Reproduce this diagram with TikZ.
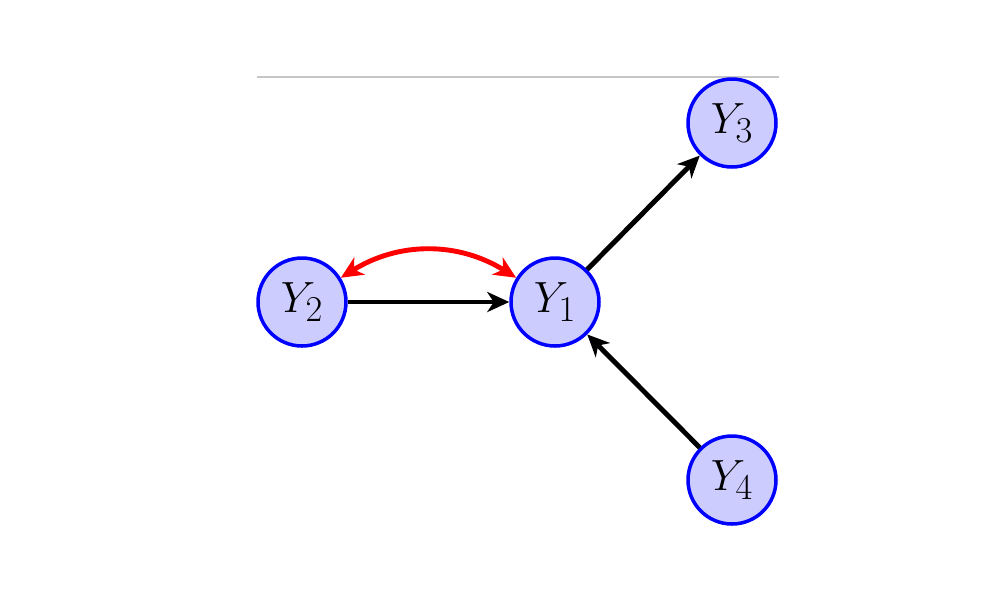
\documentclass[tikz,border=0pt]{standalone}
\usetikzlibrary{arrows.meta}
\definecolor{nodefill}{RGB}{204,204,255}
\begin{document}
\begin{tikzpicture}[x=0.02cm,y=-0.02cm,
  var/.style={circle,draw=blue,fill=nodefill,line width=2pt,minimum size=1.76cm,inner sep=0pt,font=\fontsize{31}{36}\selectfont},
  tip/.style={},
  edge/.style={line width=2.8pt,-{Stealth[length=4.4mm,width=4mm,inset=1.3mm]}},
  biedge/.style={line width=2.8pt,red,{Stealth[length=4.4mm,width=4mm,inset=1.3mm]}-{Stealth[length=4.4mm,width=4mm,inset=1.3mm]}}]
\useasboundingbox (0,0) rectangle (1000,600);
\draw[gray!45,line width=0.6pt] (257,77) coordinate (la) -- (779,77) coordinate (lb);
\node[var] (Y2) at (302,302) {$Y_2$};
\node[var] (Y1) at (555,302) {$Y_1$};
\node[var] (Y3) at (732,123) {$Y_3$};
\node[var] (Y4) at (732,480) {$Y_4$};
\draw[edge] (Y2) -- (Y1);
\draw[edge] (Y1) -- (Y3);
\draw[edge] (Y4) -- (Y1);
\draw[biedge] (Y2.32) to[bend left=32] (Y1.148);
\end{tikzpicture}
\end{document}
